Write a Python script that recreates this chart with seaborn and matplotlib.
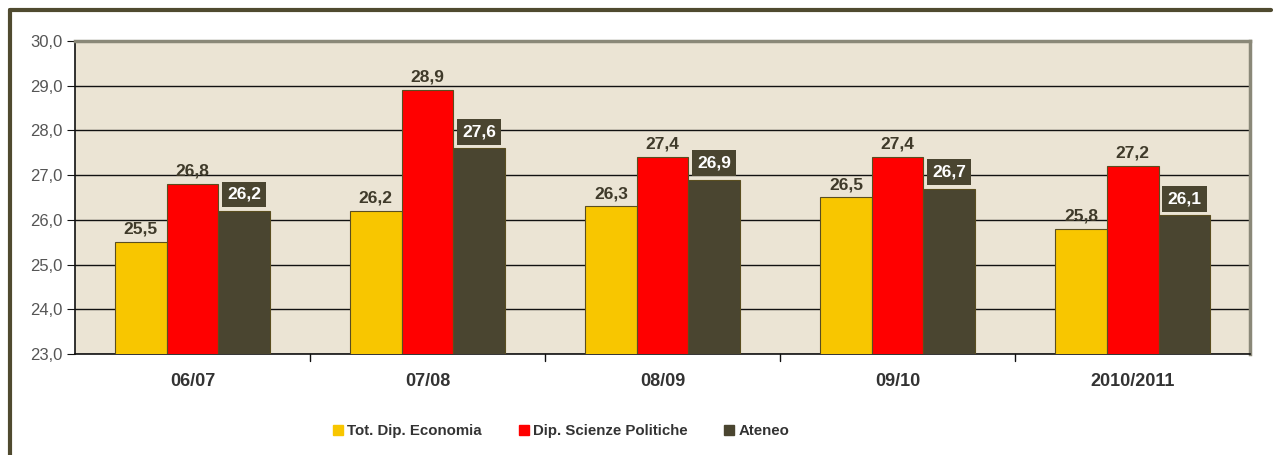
import matplotlib
matplotlib.use("Agg")
import matplotlib.pyplot as plt
import seaborn as sns
import pandas as pd
from matplotlib.ticker import FuncFormatter
from matplotlib.lines import Line2D

# Data
anni = ["06/07", "07/08", "08/09", "09/10", "2010/2011"]
economia = [25.5, 26.2, 26.3, 26.5, 25.8]
scienze_politiche = [26.8, 28.9, 27.4, 27.4, 27.2]
ateneo = [26.2, 27.6, 26.9, 26.7, 26.1]
serie = ["Tot. Dip. Economia", "Dip. Scienze Politiche", "Ateneo"]
colori = ["#f8c600", "#ff0000", "#4a4530"]

df = pd.DataFrame({
    "Anno": anni * 3,
    "Serie": [serie[0]] * 5 + [serie[1]] * 5 + [serie[2]] * 5,
    "Voto": economia + scienze_politiche + ateneo,
})

sns.set_style("white")
plt.rcParams['font.family'] = ['Liberation Sans', 'DejaVu Sans']

fig = plt.figure(figsize=(12.77, 4.55), dpi=100)
ax = fig.add_axes([0.0587, 0.222, 0.9203, 0.688])
ax.set_facecolor("#ebe4d4")

sns.barplot(data=df, x="Anno", y="Voto", hue="Serie", palette=colori,
            saturation=1, width=0.66, ax=ax, edgecolor="#5a4e20", linewidth=0.8,
            legend=False, zorder=3)

ax.set_xlim(-0.5, len(anni) - 0.5)
ax.set_ylim(23, 30)
ax.set_yticks(range(23, 31))
ax.yaxis.set_major_formatter(FuncFormatter(lambda v, p: f"{v:.1f}".replace(".", ",")))
ax.grid(axis="y", color="#111111", linewidth=1.0, zorder=1)
ax.set_xlabel("")
ax.set_ylabel("")
ax.tick_params(axis="y", labelsize=12, labelcolor="#555555", length=6, color="#111111", left=True, pad=3)
ax.tick_params(axis="x", labelsize=13, labelcolor="#333333", length=0, pad=14)
for t in ax.get_xticklabels():
    t.set_fontweight("bold")

for s in ["left", "bottom"]:
    ax.spines[s].set_color("#111111")
    ax.spines[s].set_linewidth(1.2)
for s in ["top", "right"]:
    ax.spines[s].set_color("#8a8878")
    ax.spines[s].set_linewidth(2.5)

# category separators on the x axis
for i in range(1, len(anni)):
    ax.plot([i - 0.5, i - 0.5], [23, 22.85], color="#111111", lw=1, clip_on=False)

# value labels
for i, cont in enumerate(ax.containers):
    for bar in cont:
        h = bar.get_height()
        xc = bar.get_x() + bar.get_width() / 2
        txt = f"{h:.1f}".replace(".", ",")
        if i == 2:
            ax.text(xc, h + 0.2, txt, ha="center", va="bottom", fontsize=12.5,
                    fontweight="bold", color="white", zorder=5,
                    bbox=dict(boxstyle="square,pad=0.3", fc="#4a4530", ec="none"))
        else:
            ax.text(xc, h + 0.12, txt, ha="center", va="bottom", fontsize=12.5,
                    fontweight="bold", color="#3f3a2a", zorder=5)

# legend
handles = [Line2D([0], [0], marker="s", linestyle="", markersize=7,
                  markerfacecolor=c, markeredgecolor=c) for c in colori]
leg = fig.legend(handles, serie, loc="center", bbox_to_anchor=(0.4385, 0.052),
                 ncol=3, frameon=False, fontsize=10.8, handletextpad=0.1,
                 columnspacing=2.3, handlelength=1.0)
for t in leg.get_texts():
    t.set_fontweight("bold")
    t.set_color("#333333")

# outer frame (top and left)
fig.add_artist(Line2D([0.0075, 0.0075], [0.0, 0.978], color="#4f4a2f", lw=3, transform=fig.transFigure))
fig.add_artist(Line2D([0.0075, 0.995], [0.978, 0.978], color="#4f4a2f", lw=3, transform=fig.transFigure))

fig.savefig("out.png", dpi=100)
